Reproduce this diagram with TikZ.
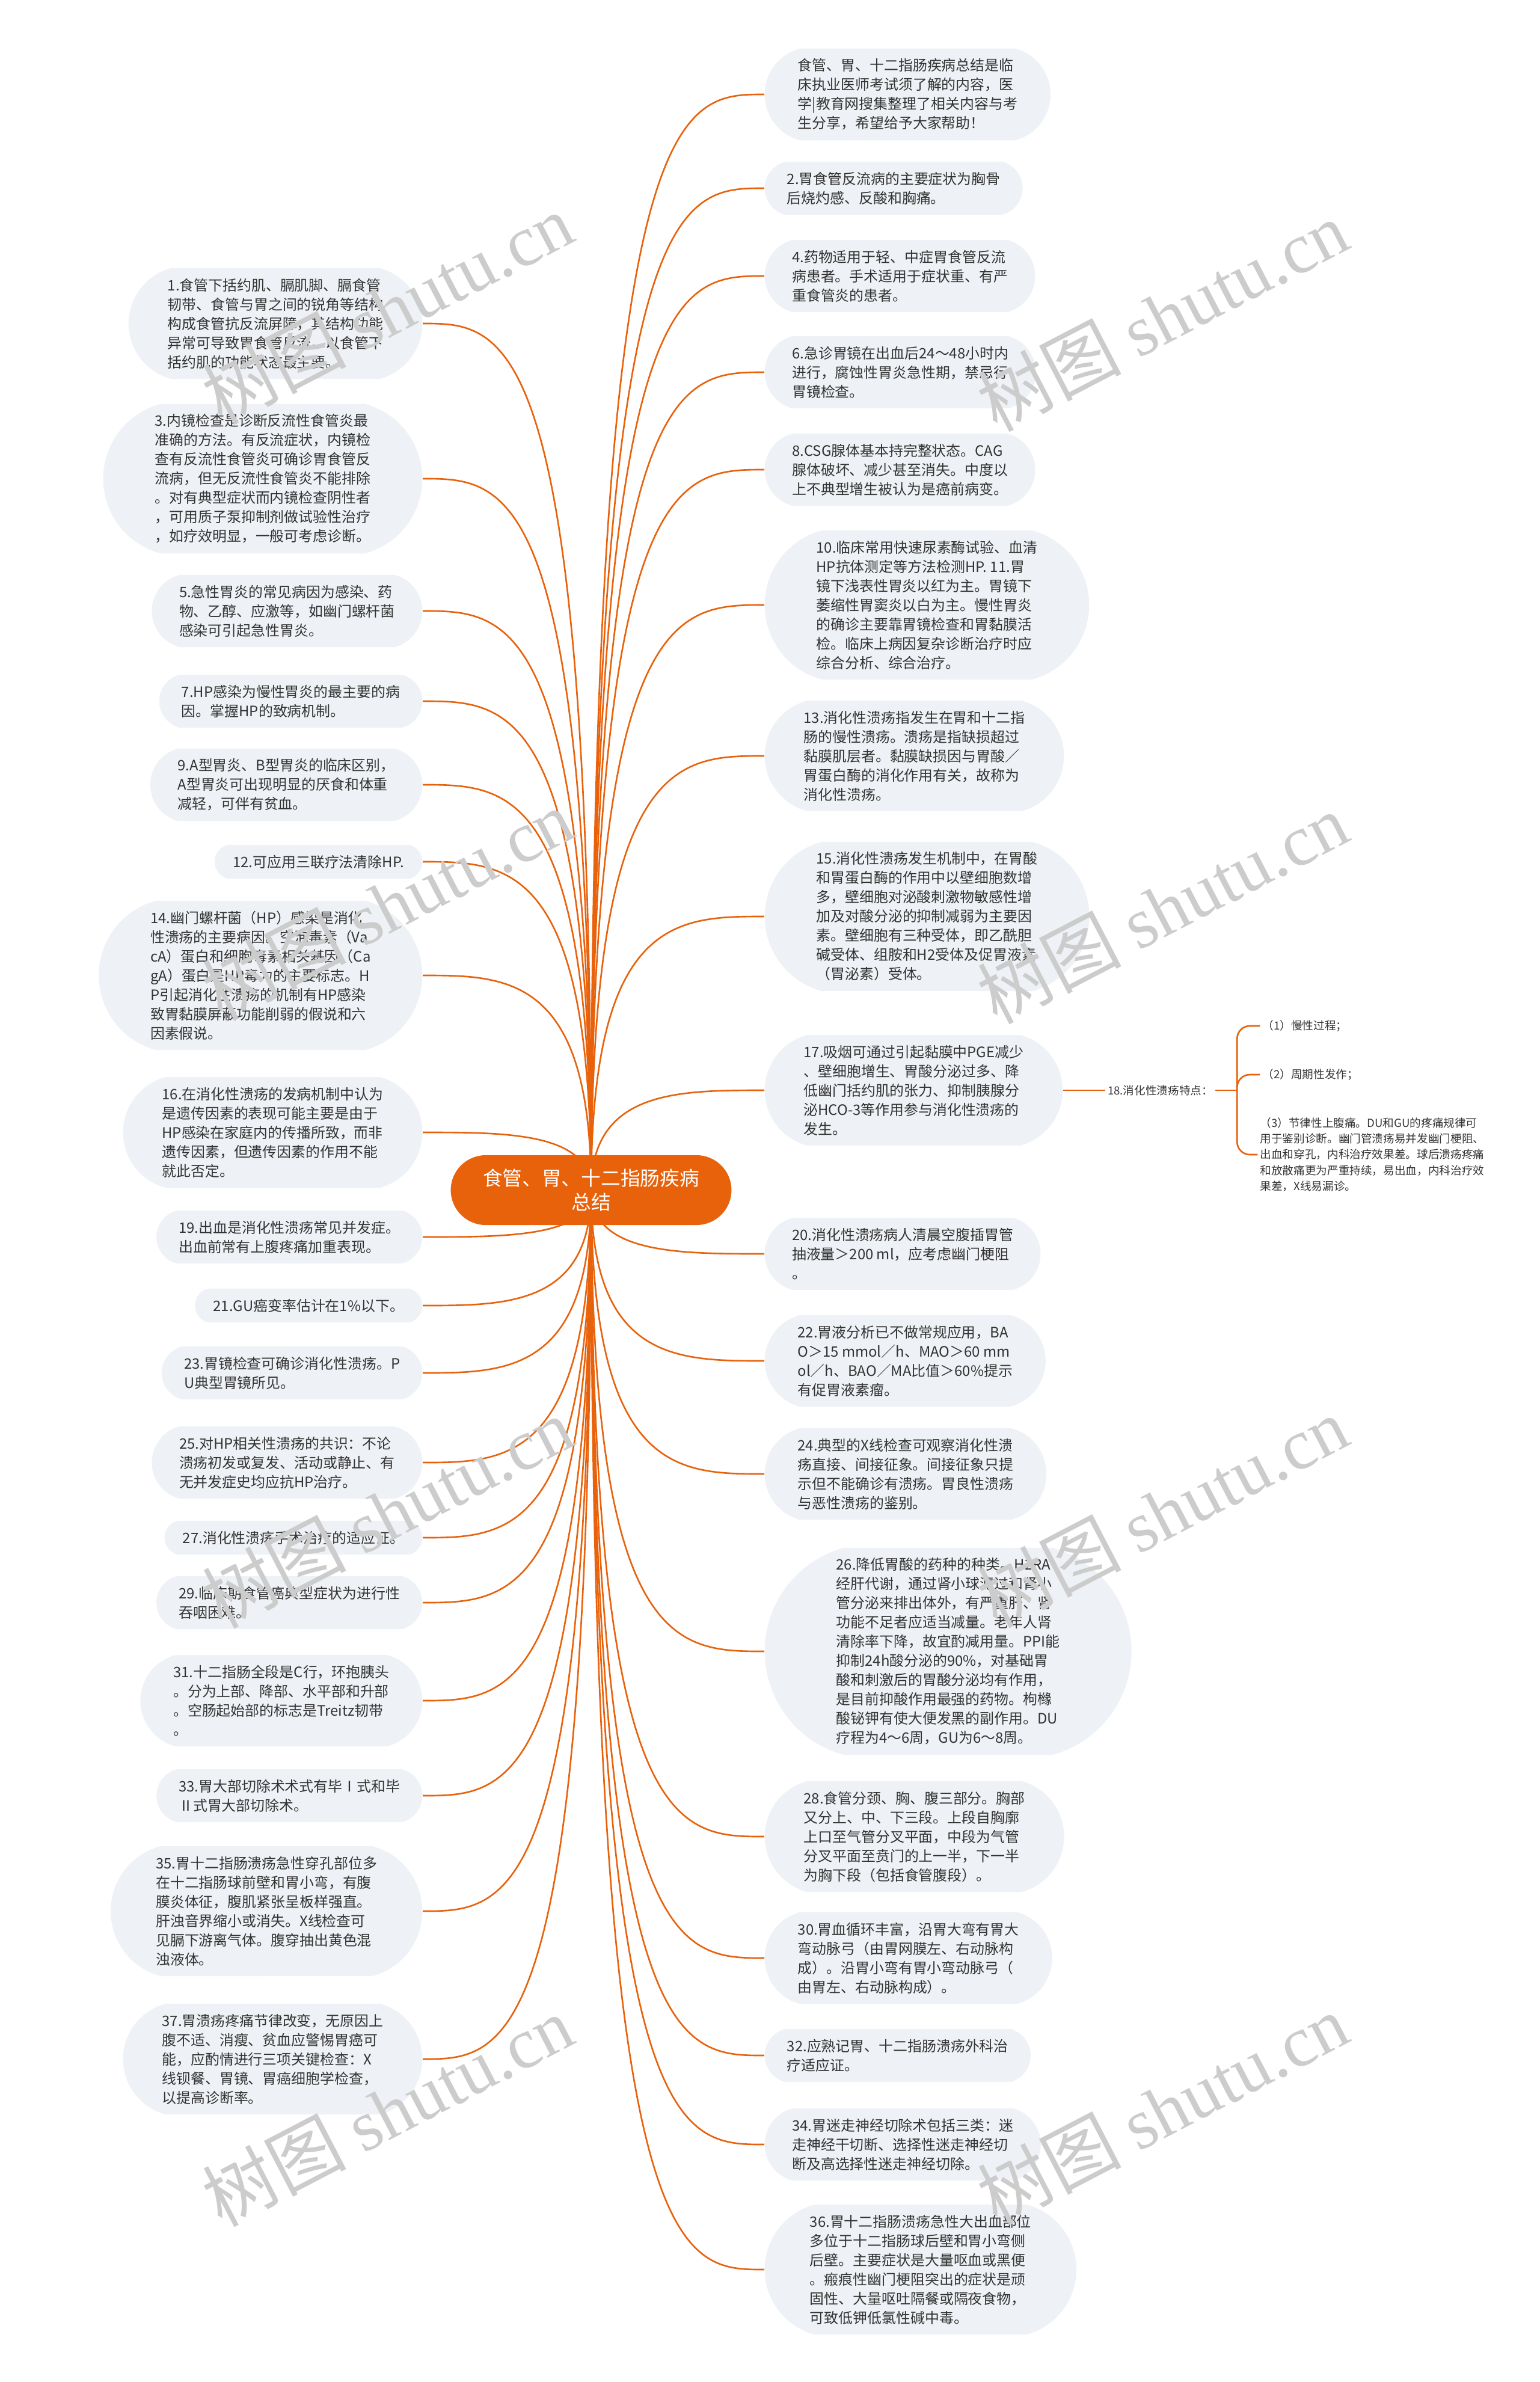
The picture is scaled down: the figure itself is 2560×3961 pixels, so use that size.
\documentclass[tikz,border=0pt]{standalone}
\usepackage{fontspec}
\setmainfont{Noto Sans CJK SC}
\newfontfamily\wmserif{Liberation Serif}
\usepackage{xcolor}
\usepackage{tikz}
\usetikzlibrary{shapes.misc,positioning,calc,backgrounds}
\definecolor{primary}{HTML}{E8620C}
\definecolor{leafbg}{HTML}{EEF1F5}
\definecolor{ink}{HTML}{333333}

\begin{document}
\begin{tikzpicture}[x=0.01cm, y=-0.01cm,
    root/.style={rounded rectangle, fill=primary, text=white, minimum width=4.9cm, minimum height=1.16cm, align=center, font=\fontsize{9.3pt}{11.4pt}\selectfont},
    leaf/.style={rounded rectangle, rounded rectangle arc length=150, fill=leafbg, text=ink, align=left, inner xsep=8pt, inner ysep=4.8pt, font=\fontsize{6.8pt}{9.1pt}\selectfont},
    note/.style={text=ink, align=left, inner sep=1pt, font=\fontsize{5.3pt}{7.4pt}\selectfont},
    link/.style={draw=primary, line width=0.75pt},
    branch/.style={link, to path={.. controls (\tikztostart |- \tikztotarget) and ($(\tikztostart |- \tikztotarget)!0.5!(\tikztotarget)$) .. (\tikztotarget)}},
    wmark/.style={rotate=27.5, text=black!20, font=\fontsize{34pt}{34pt}\selectfont}
]
    \useasboundingbox (0,0) rectangle (2560,3961);

    % Root
    \node[root] (root) at (983,1979) {食管、胃、十二指肠疾病\\总结};

    % Right branch
    \node[leaf, anchor=west] (n0) at (1271,157) {食管、胃、十二指肠疾病总结是临\\床执业医师考试须了解的内容，医\\学|教育网搜集整理了相关内容与考\\生分享，希望给予大家帮助！};
    \node[leaf, anchor=west] (n2) at (1271,313) {2.胃食管反流病的主要症状为胸骨\\后烧灼感、反酸和胸痛。};
    \node[leaf, anchor=west] (n4) at (1271,459) {4.药物适用于轻、中症胃食管反流\\病患者。手术适用于症状重、有严\\重食管炎的患者。};
    \node[leaf, anchor=west] (n6) at (1271,619) {6.急诊胃镜在出血后24～48小时内\\进行，腐蚀性胃炎急性期，禁忌行\\胃镜检查。};
    \node[leaf, anchor=west] (n8) at (1271,781) {8.CSG腺体基本持完整状态。CAG\\腺体破坏、减少甚至消失。中度以\\上不典型增生被认为是癌前病变。};
    \node[leaf, anchor=west] (n10) at (1271,1006) {10.临床常用快速尿素酶试验、血清\\HP抗体测定等方法检测HP. 11.胃\\镜下浅表性胃炎以红为主。胃镜下\\萎缩性胃窦炎以白为主。慢性胃炎\\的确诊主要靠胃镜检查和胃黏膜活\\检。临床上病因复杂诊断治疗时应\\综合分析、综合治疗。};
    \node[leaf, anchor=west] (n13) at (1271,1257) {13.消化性溃疡指发生在胃和十二指\\肠的慢性溃疡。溃疡是指缺损超过\\黏膜肌层者。黏膜缺损因与胃酸／\\胃蛋白酶的消化作用有关，故称为\\消化性溃疡。};
    \node[leaf, anchor=west] (n15) at (1271,1524) {15.消化性溃疡发生机制中，在胃酸\\和胃蛋白酶的作用中以壁细胞数增\\多，壁细胞对泌酸刺激物敏感性增\\加及对酸分泌的抑制减弱为主要因\\素。壁细胞有三种受体，即乙酰胆\\碱受体、组胺和H2受体及促胃液素\\（胃泌素）受体。};
    \node[leaf, anchor=west] (n17) at (1271,1813) {17.吸烟可通过引起黏膜中PGE减少\\、壁细胞增生、胃酸分泌过多、降\\低幽门括约肌的张力、抑制胰腺分\\泌HCO-3等作用参与消化性溃疡的\\发生。};
    \node[leaf, anchor=west] (n20) at (1271,2085) {20.消化性溃疡病人清晨空腹插胃管\\抽液量＞200 ml，应考虑幽门梗阻\\。};
    \node[leaf, anchor=west] (n22) at (1271,2263) {22.胃液分析已不做常规应用，BA\\O＞15 mmol／h、MAO＞60 mm\\ol／h、BAO／MA比值＞60\%提示\\有促胃液素瘤。};
    \node[leaf, anchor=west] (n24) at (1271,2451) {24.典型的X线检查可观察消化性溃\\疡直接、间接征象。间接征象只提\\示但不能确诊有溃疡。胃良性溃疡\\与恶性溃疡的鉴别。};
    \node[leaf, anchor=west] (n26) at (1271,2746) {26.降低胃酸的药种的种类。H2RA\\经肝代谢，通过肾小球滤过和肾小\\管分泌来排出体外，有严重肝、肾\\功能不足者应适当减量。老年人肾\\清除率下降，故宜酌减用量。PPI能\\抑制24h酸分泌的90\%，对基础胃\\酸和刺激后的胃酸分泌均有作用，\\是目前抑酸作用最强的药物。枸橼\\酸铋钾有使大便发黑的副作用。DU\\疗程为4～6周，GU为6～8周。};
    \node[leaf, anchor=west] (n28) at (1271,3054) {28.食管分颈、胸、腹三部分。胸部\\又分上、中、下三段。上段自胸廓\\上口至气管分叉平面，中段为气管\\分叉平面至贲门的上一半，下一半\\为胸下段（包括食管腹段）。};
    \node[leaf, anchor=west] (n30) at (1271,3256) {30.胃血循环丰富，沿胃大弯有胃大\\弯动脉弓（由胃网膜左、右动脉构\\成）。沿胃小弯有胃小弯动脉弓（\\由胃左、右动脉构成）。};
    \node[leaf, anchor=west] (n32) at (1271,3418) {32.应熟记胃、十二指肠溃疡外科治\\疗适应证。};
    \node[leaf, anchor=west] (n34) at (1271,3566) {34.胃迷走神经切除术包括三类：迷\\走神经干切断、选择性迷走神经切\\断及高选择性迷走神经切除。};
    \node[leaf, anchor=west] (n36) at (1271,3774) {36.胃十二指肠溃疡急性大出血部位\\多位于十二指肠球后壁和胃小弯侧\\后壁。主要症状是大量呕血或黑便\\。瘢痕性幽门梗阻突出的症状是顽\\固性、大量呕吐隔餐或隔夜食物，\\可致低钾低氯性碱中毒。};

    % 18 and its three points
    \node[note, right=0.7cm of n17] (n18) {18.消化性溃疡特点：};
    \coordinate[right=0.36cm of n18] (br);
    \node[note, anchor=west] (s1) at ($(br)+(38,-107)$) {（1）慢性过程；};
    \node[note, anchor=west] (s2) at ($(br)+(38,-26)$) {（2）周期性发作；};
    \node[note, anchor=west] (s3) at ($(br)+(34,107)$) {（3）节律性上腹痛。DU和GU的疼痛规律可\\用于鉴别诊断。幽门管溃疡易并发幽门梗阻、\\出血和穿孔，内科治疗效果差。球后溃疡疼痛\\和放散痛更为严重持续，易出血，内科治疗效\\果差，X线易漏诊。};

    % Left branch
    \node[leaf, anchor=east] (n1) at (703,538) {1.食管下括约肌、膈肌脚、膈食管\\韧带、食管与胃之间的锐角等结构\\构成食管抗反流屏障，其结构功能\\异常可导致胃食管反流。以食管下\\括约肌的功能状态最主要。};
    \node[leaf, anchor=east] (n3) at (703,796) {3.内镜检查是诊断反流性食管炎最\\准确的方法。有反流症状，内镜检\\查有反流性食管炎可确诊胃食管反\\流病，但无反流性食管炎不能排除\\。对有典型症状而内镜检查阴性者\\，可用质子泵抑制剂做试验性治疗\\，如疗效明显，一般可考虑诊断。};
    \node[leaf, anchor=east] (n5) at (703,1016) {5.急性胃炎的常见病因为感染、药\\物、乙醇、应激等，如幽门螺杆菌\\感染可引起急性胃炎。};
    \node[leaf, anchor=east] (n7) at (703,1166) {7.HP感染为慢性胃炎的最主要的病\\因。掌握HP的致病机制。};
    \node[leaf, anchor=east] (n9) at (703,1305) {9.A型胃炎、B型胃炎的临床区别，\\A型胃炎可出现明显的厌食和体重\\减轻，可伴有贫血。};
    \node[leaf, anchor=east] (n12) at (703,1433) {12.可应用三联疗法清除HP.};
    \node[leaf, anchor=east] (n14) at (703,1622) {14.幽门螺杆菌（HP）感染是消化\\性溃疡的主要病因。空泡毒素（Va\\cA）蛋白和细胞毒素相关基因（Ca\\gA）蛋白是HP毒力的主要标志。H\\P引起消化性溃疡的机制有HP感染\\致胃黏膜屏蔽功能削弱的假说和六\\因素假说。};
    \node[leaf, anchor=east] (n16) at (703,1883) {16.在消化性溃疡的发病机制中认为\\是遗传因素的表现可能主要是由于\\HP感染在家庭内的传播所致，而非\\遗传因素，但遗传因素的作用不能\\就此否定。};
    \node[leaf, anchor=east] (n19) at (703,2057) {19.出血是消化性溃疡常见并发症。\\出血前常有上腹疼痛加重表现。};
    \node[leaf, anchor=east] (n21) at (703,2171) {21.GU癌变率估计在1\%以下。};
    \node[leaf, anchor=east] (n23) at (703,2283) {23.胃镜检查可确诊消化性溃疡。P\\U典型胃镜所见。};
    \node[leaf, anchor=east] (n25) at (703,2432) {25.对HP相关性溃疡的共识：不论\\溃疡初发或复发、活动或静止、有\\无并发症史均应抗HP治疗。};
    \node[leaf, anchor=east] (n27) at (703,2557) {27.消化性溃疡手术治疗的适应证。};
    \node[leaf, anchor=east] (n29) at (703,2665) {29.临床期食管癌典型症状为进行性\\吞咽困难。};
    \node[leaf, anchor=east] (n31) at (703,2828) {31.十二指肠全段是C行，环抱胰头\\。分为上部、降部、水平部和升部\\。空肠起始部的标志是Treitz韧带\\。};
    \node[leaf, anchor=east] (n33) at (703,2986) {33.胃大部切除术术式有毕Ⅰ式和毕\\Ⅱ式胃大部切除术。};
    \node[leaf, anchor=east] (n35) at (703,3178) {35.胃十二指肠溃疡急性穿孔部位多\\在十二指肠球前壁和胃小弯，有腹\\膜炎体征，腹肌紧张呈板样强直。\\肝浊音界缩小或消失。X线检查可\\见膈下游离气体。腹穿抽出黄色混\\浊液体。};
    \node[leaf, anchor=east] (n37) at (703,3424) {37.胃溃疡疼痛节律改变，无原因上\\腹不适、消瘦、贫血应警惕胃癌可\\能，应酌情进行三项关键检查：X\\线钡餐、胃镜、胃癌细胞学检查，\\以提高诊断率。};

    % Connectors
    \begin{scope}[on background layer]
        \fill[white] (0,0) rectangle (2560,3961);
        \draw[branch] (root.center) to (n0.west);
        \draw[branch] (root.center) to (n2.west);
        \draw[branch] (root.center) to (n4.west);
        \draw[branch] (root.center) to (n6.west);
        \draw[branch] (root.center) to (n8.west);
        \draw[branch] (root.center) to (n10.west);
        \draw[branch] (root.center) to (n13.west);
        \draw[branch] (root.center) to (n15.west);
        \draw[branch] (root.center) to (n17.west);
        \draw[branch] (root.center) to (n20.west);
        \draw[branch] (root.center) to (n22.west);
        \draw[branch] (root.center) to (n24.west);
        \draw[branch] (root.center) to (n26.west);
        \draw[branch] (root.center) to (n28.west);
        \draw[branch] (root.center) to (n30.west);
        \draw[branch] (root.center) to (n32.west);
        \draw[branch] (root.center) to (n34.west);
        \draw[branch] (root.center) to (n36.west);
        \draw[branch] (root.center) to (n1.east);
        \draw[branch] (root.center) to (n3.east);
        \draw[branch] (root.center) to (n5.east);
        \draw[branch] (root.center) to (n7.east);
        \draw[branch] (root.center) to (n9.east);
        \draw[branch] (root.center) to (n12.east);
        \draw[branch] (root.center) to (n14.east);
        \draw[branch] (root.center) to (n16.east);
        \draw[branch] (root.center) to (n19.east);
        \draw[branch] (root.center) to (n21.east);
        \draw[branch] (root.center) to (n23.east);
        \draw[branch] (root.center) to (n25.east);
        \draw[branch] (root.center) to (n27.east);
        \draw[branch] (root.center) to (n29.east);
        \draw[branch] (root.center) to (n31.east);
        \draw[branch] (root.center) to (n33.east);
        \draw[branch] (root.center) to (n35.east);
        \draw[branch] (root.center) to (n37.east);
    \end{scope}
    \draw[link] (n17.east) -- (n18.west);
    \draw[link] (n18.east) -- (br);
    \draw[link, rounded corners=6pt] (s1.west) -| (br) |- (s3.west);
    \draw[link, rounded corners=6pt] ($(br |- s2.west)+(0,18)$) |- (s2.west);

    % Watermarks
    \node[wmark] (w1) at (644,513) {树图 {\wmserif shutu.cn}};
    \node[wmark] (w2) at (1933,525) {树图 {\wmserif shutu.cn}};
    \node[wmark] (w3) at (644,1504) {树图 {\wmserif shutu.cn}};
    \node[wmark] (w4) at (1933,1510) {树图 {\wmserif shutu.cn}};
    \node[wmark] (w5) at (644,2515) {树图 {\wmserif shutu.cn}};
    \node[wmark] (w6) at (1933,2514) {树图 {\wmserif shutu.cn}};
    \node[wmark] (w7) at (644,3510) {树图 {\wmserif shutu.cn}};
    \node[wmark] (w8) at (1933,3507) {树图 {\wmserif shutu.cn}};
\end{tikzpicture}
\end{document}
